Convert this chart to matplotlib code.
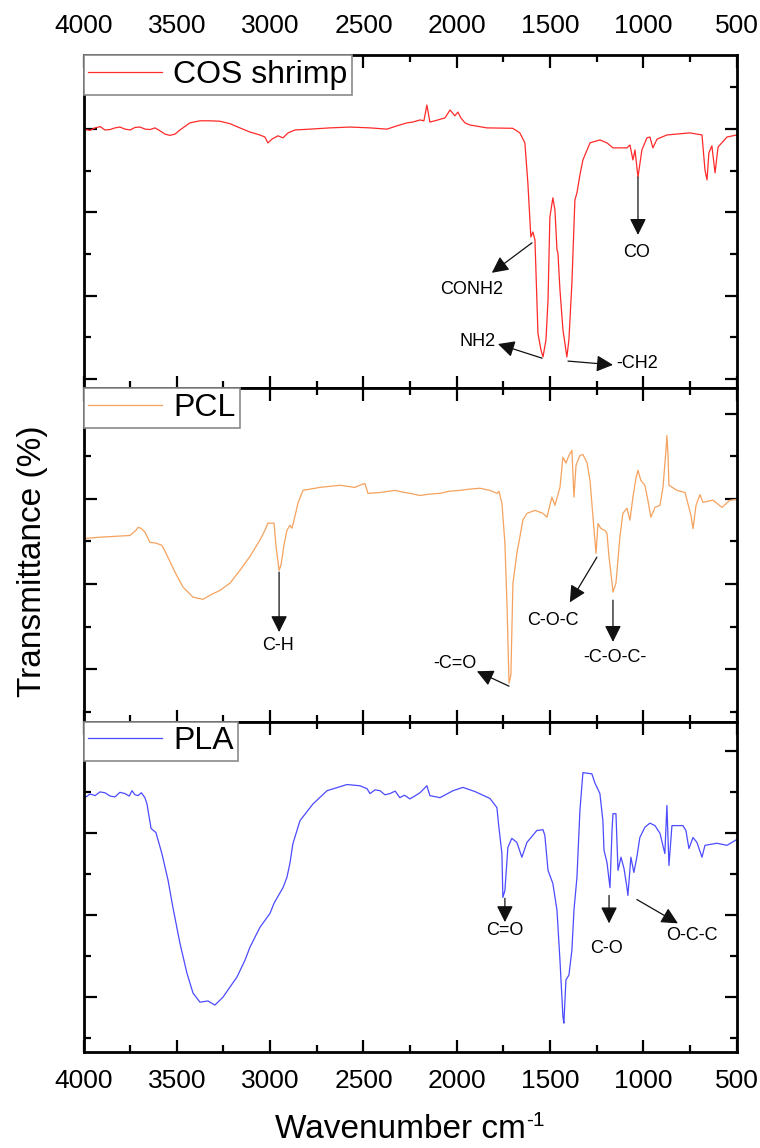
import matplotlib
matplotlib.use("Agg")
import matplotlib.pyplot as plt
from matplotlib.ticker import MultipleLocator, FixedLocator

plt.rcParams['font.family'] = ['Liberation Sans', 'DejaVu Sans']

# ---------------- data ----------------
x_ticks = [4000, 3500, 3000, 2500, 2000, 1500, 1000, 500]
x_tick_labels = ['4000', '3500', '3000', '2500', '2000', '1500', '1000', '500']

# (wavenumber cm-1, transmittance) pairs per spectrum
cos_label = 'COS shrimp'
cos_points = [
    (4000, 70.0), (3965, 69.7), (3938, 70.3), (3910, 70.6), (3885, 69.8), (3858, 69.9),
    (3831, 70.3), (3805, 70.5), (3778, 70.0), (3750, 69.8), (3724, 70.4), (3697, 70.5),
    (3670, 70.0), (3643, 69.9), (3617, 70.3), (3590, 69.6), (3563, 68.8), (3537, 68.5),
    (3510, 68.8), (3483, 69.8), (3430, 71.5), (3376, 72.0), (3322, 72.0), (3269, 71.9),
    (3215, 71.3), (3162, 70.3), (3108, 69.3), (3055, 68.6), (3028, 68.1), (3012, 66.7),
    (2990, 67.6), (2958, 68.4), (2931, 67.9), (2904, 69.1), (2867, 69.8), (2787, 70.0),
    (2679, 70.3), (2572, 70.5), (2465, 70.3), (2374, 70.0), (2320, 70.8), (2267, 71.5),
    (2235, 71.7), (2197, 72.2), (2176, 72.0), (2160, 75.8), (2144, 71.7), (2117, 72.0),
    (2063, 72.7), (2036, 74.6), (2010, 73.2), (1994, 74.1), (1978, 72.7), (1956, 71.5),
    (1930, 71.0), (1839, 70.3), (1700, 70.2), (1662, 69.1), (1635, 66.7), (1619, 57.1),
    (1603, 44.1), (1592, 45.3), (1581, 43.4), (1565, 21.0), (1549, 17.0), (1538, 15.3),
    (1522, 19.4), (1511, 29.0), (1501, 48.9), (1485, 53.5), (1474, 50.6), (1463, 41.0),
    (1458, 40.3), (1447, 31.4), (1431, 21.8), (1410, 15.3), (1399, 19.4), (1383, 33.1),
    (1367, 53.0), (1356, 54.7), (1340, 59.0), (1324, 62.6), (1286, 66.7), (1233, 67.4),
    (1195, 66.7), (1163, 65.5), (1088, 65.5), (1072, 66.2), (1056, 62.6), (1045, 65.0),
    (1029, 58.5), (1008, 65.0), (981, 67.9), (965, 68.1), (949, 65.5), (927, 67.6),
    (874, 68.6), (751, 69.1), (686, 68.6), (670, 60.2), (659, 57.8), (649, 64.3),
    (633, 66.0), (616, 59.5), (600, 65.7), (552, 68.1), (500, 68.6)]

pcl_label = 'PCL'
pcl_points = [
    (3992, 50.7), (3912, 51.0), (3831, 51.2), (3751, 51.4), (3719, 52.6), (3708, 53.3),
    (3692, 53.1), (3671, 52.2), (3644, 49.8), (3612, 49.6), (3580, 49.1), (3563, 47.7),
    (3510, 42.8), (3467, 39.3), (3413, 36.9), (3360, 36.4), (3312, 37.6), (3269, 38.5),
    (3215, 40.2), (3162, 43.2), (3108, 46.5), (3055, 50.3), (3028, 52.6), (3012, 54.3),
    (2979, 54.3), (2969, 49.1), (2952, 43.2), (2942, 44.4), (2926, 49.1), (2910, 52.6),
    (2894, 53.8), (2883, 53.1), (2872, 55.0), (2851, 59.0), (2824, 62.0), (2733, 62.7),
    (2626, 63.2), (2546, 62.7), (2508, 63.4), (2492, 63.6), (2476, 61.3), (2412, 61.5),
    (2331, 62.0), (2300, 61.7), (2278, 61.5), (2240, 61.2), (2197, 60.8), (2150, 61.1),
    (2090, 61.3), (2040, 61.8), (1983, 62.0), (1930, 62.3), (1876, 62.5), (1822, 62.0),
    (1785, 61.3), (1774, 61.8), (1758, 59.0), (1742, 49.6), (1731, 35.5), (1720, 16.7),
    (1710, 18.6), (1699, 40.2), (1678, 47.2), (1662, 51.0), (1646, 55.0), (1624, 56.6),
    (1581, 57.3), (1538, 56.6), (1517, 55.7), (1490, 60.4), (1474, 58.5), (1447, 62.7),
    (1431, 69.8), (1415, 68.4), (1399, 70.2), (1383, 71.4), (1372, 60.4), (1361, 67.9),
    (1340, 70.2), (1324, 70.4), (1302, 68.5), (1286, 64.3), (1270, 55.7), (1254, 47.2),
    (1243, 54.2), (1227, 53.0), (1206, 52.6), (1195, 51.9), (1184, 46.3), (1168, 40.2),
    (1163, 38.1), (1147, 40.2), (1126, 51.0), (1110, 56.6), (1088, 57.8), (1072, 55.0),
    (1056, 60.4), (1040, 64.8), (1029, 66.7), (1013, 64.3), (992, 63.2), (976, 59.7),
    (960, 55.7), (938, 58.0), (911, 58.5), (895, 62.7), (879, 71.4), (874, 74.9),
    (868, 70.2), (863, 63.2), (820, 62.0), (777, 61.5), (766, 59.7), (745, 56.1),
    (734, 53.0), (718, 58.5), (697, 61.0), (681, 59.2), (627, 59.7), (579, 58.0),
    (536, 59.7), (500, 59.9)]

pla_label = 'PLA'
pla_points = [
    (3992, 68.6), (3965, 69.5), (3938, 69.1), (3912, 70.0), (3885, 69.8), (3858, 69.0),
    (3831, 68.8), (3805, 69.9), (3778, 69.6), (3755, 69.0), (3740, 70.3), (3724, 69.3),
    (3708, 69.1), (3690, 69.8), (3671, 68.6), (3660, 67.1), (3638, 61.1), (3612, 60.1),
    (3580, 55.0), (3547, 48.5), (3521, 41.9), (3483, 33.1), (3446, 25.9), (3413, 21.0),
    (3376, 18.8), (3333, 19.1), (3296, 18.1), (3253, 20.0), (3215, 22.5), (3178, 24.9),
    (3135, 29.0), (3108, 32.2), (3055, 37.0), (3001, 40.4), (2979, 42.9), (2931, 46.7),
    (2910, 49.2), (2894, 52.6), (2878, 57.4), (2840, 63.0), (2770, 67.1), (2695, 70.3),
    (2588, 71.8), (2519, 71.5), (2481, 70.8), (2465, 69.6), (2438, 70.5), (2411, 70.3),
    (2385, 69.3), (2358, 69.6), (2330, 70.2), (2305, 68.6), (2280, 69.2), (2251, 68.3),
    (2225, 69.0), (2197, 69.8), (2160, 71.5), (2144, 69.1), (2090, 68.6), (2020, 70.3),
    (1967, 71.1), (1903, 70.1), (1822, 68.4), (1785, 66.2), (1774, 61.3), (1758, 55.0),
    (1753, 44.3), (1742, 46.0), (1726, 56.5), (1705, 58.7), (1678, 57.7), (1651, 54.1),
    (1624, 57.7), (1571, 60.6), (1538, 60.8), (1528, 59.4), (1511, 50.9), (1485, 47.7),
    (1463, 41.2), (1447, 29.0), (1431, 15.2), (1426, 13.7), (1415, 24.2), (1399, 25.4),
    (1383, 31.5), (1372, 41.2), (1356, 49.2), (1340, 65.5), (1324, 74.7), (1276, 74.4),
    (1260, 72.2), (1233, 69.6), (1217, 63.0), (1211, 55.8), (1195, 52.8), (1179, 46.7),
    (1168, 60.6), (1163, 64.7), (1147, 64.7), (1136, 50.9), (1120, 54.1), (1104, 51.4),
    (1088, 46.7), (1083, 44.8), (1067, 54.1), (1051, 50.4), (1035, 54.1), (1019, 58.9),
    (992, 61.4), (965, 62.4), (938, 61.8), (911, 59.9), (885, 55.0), (874, 66.7),
    (863, 52.1), (847, 61.8), (788, 61.8), (772, 60.6), (756, 56.2), (734, 58.9),
    (713, 57.7), (686, 54.1), (670, 57.0), (606, 57.5), (552, 57.0), (500, 58.4)]

# annotations: (label, text position, arrow tail, arrow head) in data units
cos_notes = [('CONH2', (1919, 31.4), (1597, 42.7), (1812, 35.5)),
             ('NH2', (1887, 18.9), (1543, 15.0), (1779, 18.4)),
             ('-CH2', (1035, 13.8), (1404, 14.3), (1163, 13.4)),
             ('CO', (1035, 40.3), (1029, 58.5), (1029, 44.6))]
pcl_notes = [('C-H', (2958, 25.6), (2952, 42.8), (2952, 28.7)),
             ('-C=O', (2010, 21.4), (1720, 16.0), (1892, 19.5)),
             ('C-O-C', (1485, 31.5), (1249, 46.3), (1394, 35.7)),
             ('-C-O-C-', (1152, 22.8), (1163, 36.2), (1163, 26.4))]
pla_notes = [('C=O', (1742, 36.3), (1742, 44.1), (1742, 38.3)),
             ('C-O', (1195, 31.9), (1184, 44.8), (1184, 38.0)),
             ('O-C-C', (740, 35.1), (1035, 43.8), (815, 38.0))]

# ---------------- figure ----------------
fig = plt.figure(figsize=(7.6, 11.48), dpi=100)
W, H = 760, 1148
left, right = 83.5 / W, 736.7 / W
bounds = [(55, 388, (7.84, 87.8), [10, 30, 50, 70], [20, 40, 60, 80]),
          (388, 721.7, (7.65, 86.05), [20, 40, 60, 80], [10, 30, 50, 70]),
          (721.7, 1052, (6.67, 87.1), [20, 40, 60, 80], [10, 30, 50, 70])]
series = [(cos_points, cos_label, '#FF2A2A', cos_notes),
          (pcl_points, pcl_label, '#F5A25E', pcl_notes),
          (pla_points, pla_label, '#4B4BFF', pla_notes)]

for i, ((ytop, ybot, ylim, ymaj, ymin), (pts, lab, col, notes)) in enumerate(zip(bounds, series)):
    ax = fig.add_axes([left, 1 - ybot / H, right - left, (ybot - ytop) / H])
    wn = [p[0] for p in pts]
    t = [p[1] for p in pts]
    ax.plot(wn, t, color=col, lw=0.9, label=lab)
    ax.set_xlim(4000, 500)
    ax.set_ylim(*ylim)
    ax.set_xticks(x_ticks)
    ax.xaxis.set_minor_locator(MultipleLocator(250))
    ax.yaxis.set_major_locator(FixedLocator(ymaj))
    ax.yaxis.set_minor_locator(FixedLocator(ymin))
    ax.tick_params(which='both', direction='in', top=True, right=True,
                   labelleft=False, width=1.6)
    ax.tick_params(which='major', length=9)
    ax.tick_params(which='minor', length=5)
    for sp in ax.spines.values():
        sp.set_linewidth(2.0)
    if i == 0:
        ax.tick_params(axis='x', labeltop=True, labelbottom=False, labelsize=19, pad=12)
        ax.set_xticklabels(x_tick_labels)
    elif i == 2:
        ax.tick_params(axis='x', labeltop=False, labelbottom=True, labelsize=19, pad=12)
        ax.set_xticklabels(x_tick_labels)
    else:
        ax.tick_params(axis='x', labeltop=False, labelbottom=False)
    leg = ax.legend(loc='upper left', fontsize=23, borderaxespad=0, borderpad=0.15,
                    handlelength=2.3, handletextpad=0.35, fancybox=False, framealpha=1)
    leg.get_frame().set_edgecolor('#8a8a8a')
    leg.get_frame().set_linewidth(1.2)
    for txt, tpos, tail, head in notes:
        ax.annotate('', xy=head, xytext=tail,
                    arrowprops=dict(arrowstyle='-|>', color='#111111', lw=0.9,
                                    mutation_scale=25, shrinkA=0, shrinkB=0))
        ax.text(tpos[0], tpos[1], txt, fontsize=13, ha='center', va='center')

fig.text(33 / W, 1 - 561 / H, 'Transmittance (%)', rotation=90, fontsize=24,
         ha='center', va='center')
# x label with a hyphen-style superscript "-1"
xl = fig.text(400 / W, 1 - 1130 / H, 'Wavenumber cm', fontsize=24,
              ha='center', va='center')
renderer = fig.canvas.get_renderer()
bb = xl.get_window_extent(renderer=renderer)
fig.text((bb.x1 + 1) / W, (bb.y1 - 6) / H, '-1', fontsize=15, ha='left', va='center')

fig.savefig('out.png', dpi=100)
